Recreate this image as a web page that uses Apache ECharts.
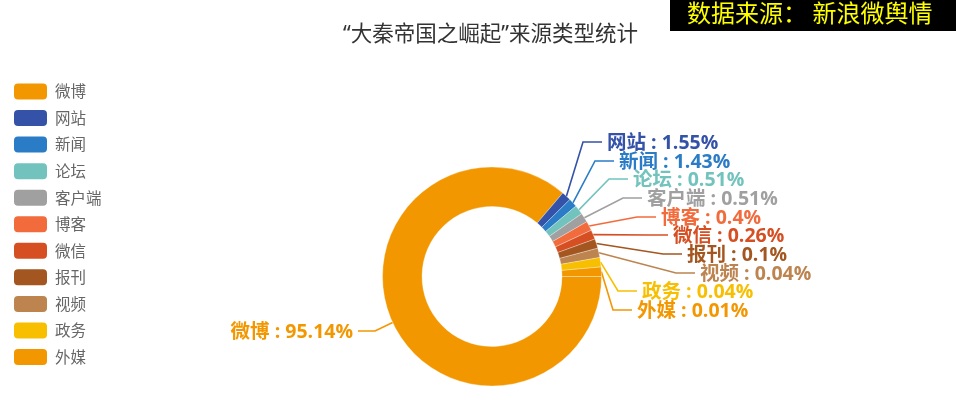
<!DOCTYPE html>
<html><head><meta charset="utf-8">
<style>html,body{margin:0;padding:0;background:#fff}#c{width:956px;height:412px;filter:blur(0.35px)}</style>
<script src="https://cdn.jsdelivr.net/npm/echarts@6/dist/echarts.min.js"></script>
</head><body><div id="c"></div>
<script>
const categories = ['微博','网站','新闻','论坛','客户端','博客','微信','报刊','视频','政务','外媒'];
const values = [95.14,1.55,1.43,0.51,0.51,0.4,0.26,0.1,0.04,0.04,0.01];
const colors = ['#f39700','#3452a8','#2a7cc7','#72c3bd','#a0a0a0','#f26b3c','#d64f22','#a3561f','#bd8450','#f7bf00','#f39700'];
const labelAnchorX = [353,607,619,633,647,661,673,687,700,642,637];
const labelRowY = [332,143,162,180,199,218,236,255,274,292,311];
const titleText = '“大秦帝国之崛起”来源类型统计';
const sourceText = '数据来源: 新浪微舆情';
const font = '"Open Sans","Noto Sans CJK SC",sans-serif';
const cjk = '"Noto Sans CJK SC",sans-serif';
const chart = echarts.init(document.getElementById('c'), null, {renderer:'canvas'});
chart.setOption({
  animation:false,
  backgroundColor:'#fff',
  title:{text:titleText,left:338,top:19.5,textStyle:{fontFamily:'"Noto Sans","Noto Sans CJK SC",sans-serif',fontSize:21.5,fontWeight:'normal',color:'#333'}},
  legend:{orient:'vertical',left:9,top:78.5,itemWidth:33,itemHeight:16,itemGap:10.55,data:categories,
    textStyle:{fontFamily:cjk,fontSize:15.5,color:'#666',padding:[0,0,0,3]},selectedMode:false,
    itemStyle:{borderWidth:0}},
  graphic:[
    {type:'rect',shape:{x:670,y:0,width:286,height:31},style:{fill:'#000'}},
    {type:'text',left:687,top:1,style:{text:sourceText.replace(': ','： '),fill:'#ffff00',fontFamily:cjk,fontSize:24}}
  ],
  series:[{type:'pie',center:[492,276.5],radius:[70,109.5],startAngle:0,minAngle:5,clockwise:true,
    data:categories.map((n,i)=>({name:n,value:values[i],itemStyle:{color:colors[i]},label:{color:colors[i]},labelLine:{lineStyle:{color:colors[i]}}})),
    itemStyle:{borderColor:'rgba(255,255,255,0.6)',borderWidth:0.5},
    label:{formatter:'{b} : {c}%',fontFamily:font,fontSize:19.5,fontWeight:'bold'},
    labelLine:{length:10,length2:10,lineStyle:{width:1.6}},
    labelLayout(p){
      const i=p.dataIndex, x=labelAnchorX[i], y=labelRowY[i], right=i===0;
      const start=p.labelLinePoints?p.labelLinePoints[0]:[x,y];
      return {x,y,align:right?'right':'left',verticalAlign:'middle',
        labelLinePoints:[start,[x+(right?22:-24),y-1],[x+(right?5:-5),y-1]]};
    }
  }]
});
</script></body></html>
